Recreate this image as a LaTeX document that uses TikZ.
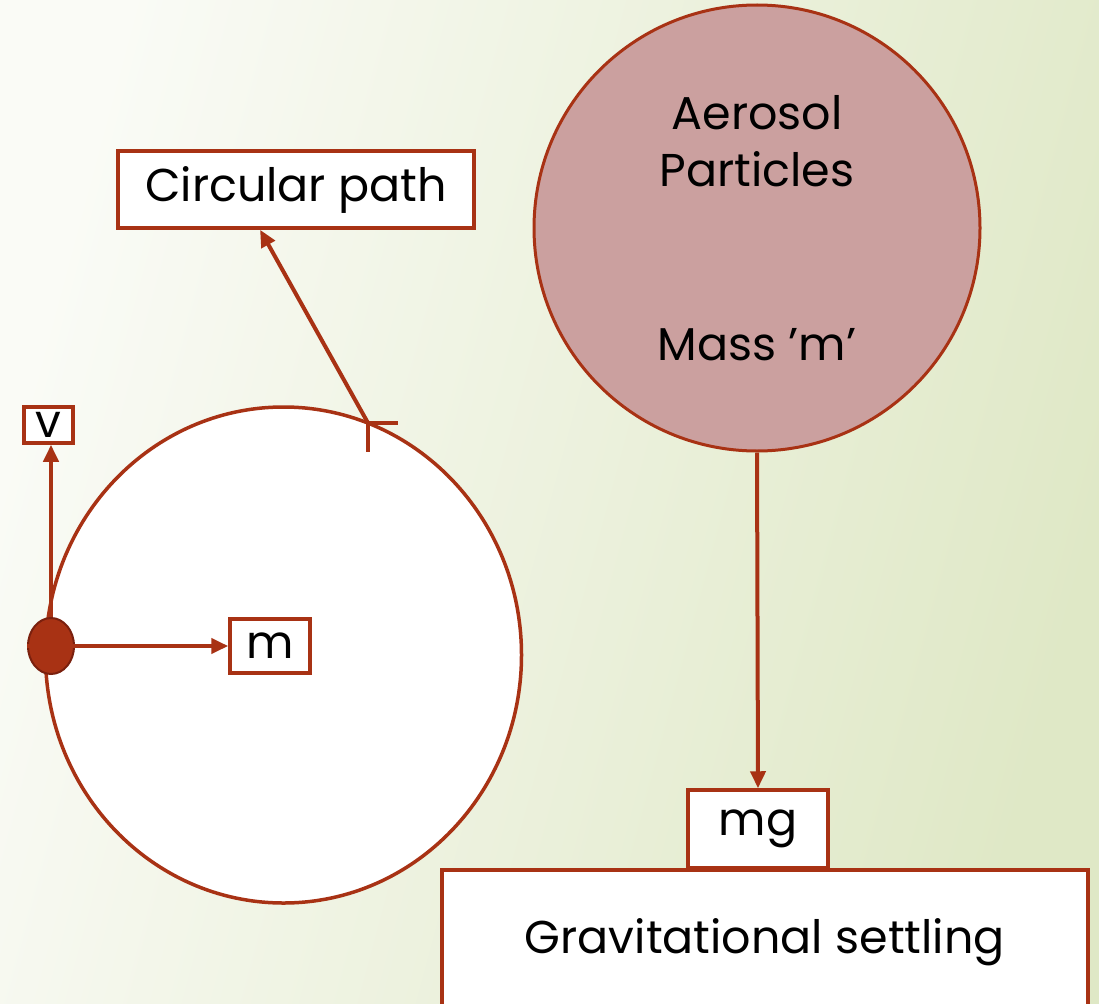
\documentclass[tikz,border=0pt]{standalone}
\usepackage{fontspec}
\setmainfont{Poppins}
\usetikzlibrary{arrows.meta,calc,positioning,shapes.geometric}
\definecolor{setred}{RGB}{168,50,20}
\definecolor{balldark}{RGB}{122,32,14}
\definecolor{aerofill}{RGB}{203,160,159}
\definecolor{bgleft}{RGB}{250,251,246}
\definecolor{bgright}{RGB}{223,232,198}

\begin{document}
\begin{tikzpicture}[x=1pt, y=-1pt,
    lbl/.style={draw=setred, fill=white, line width=3.5pt, inner sep=0pt, font=\fontsize{46}{52}\selectfont},
    link/.style={draw=setred, line width=4pt, -{Triangle[length=17pt, width=15pt]}}
  ]
  \useasboundingbox (0,0) rectangle (1099,1003);
  \shade[left color=bgleft, right color=bgright, shading angle=75] (0,0) rectangle (1099,1003);

  % circular motion
  \node[ellipse, draw=setred, fill=white, line width=3.5pt, minimum width=476pt, minimum height=496pt, inner sep=0pt] (orbit) at (283.5,655) {};
  \node[lbl, minimum width=356pt, minimum height=77pt] (circpath) at (296,189.5) {Circular path};
  \node[lbl, minimum width=49pt, minimum height=36pt] (vbox) at (48.5,425) {v};
  \node[lbl, minimum width=80pt, minimum height=54pt] (mbox) at (270,646) {m};
  \node[ellipse, draw=balldark, fill=setred, line width=2pt, minimum width=46pt, minimum height=56pt, inner sep=0pt] (ball) at (51,646) {};
  \coordinate (tick) at (368,423);

  \draw[link] (ball.west) -- (mbox.west);
  \draw[link] (ball.north) -- (ball.north |- vbox.south);
  \draw[link] (tick) -- ($(circpath.south west)!0.4!(circpath.south east)$);
  \draw[setred, line width=4.5pt] (tick) -- ++(30,0) (tick) -- ++(0,29);

  % settling
  \node[ellipse, draw=setred, fill=aerofill, line width=3pt, minimum width=446pt, minimum height=446pt, inner sep=0pt, align=center, font=\fontsize{46}{57}\selectfont] (aerosol) at (757,228) {Aerosol\\Particles\\[117pt]Mass 'm'};
  \node[lbl, minimum width=646pt, minimum height=144pt, anchor=north west] (settling) at (440,868) {Gravitational settling};
  \node[lbl, minimum width=140pt, minimum height=78pt] (mgbox) at (758,829) {mg};

  \draw[link] (aerosol.south) -- (mgbox.north);
\end{tikzpicture}
\end{document}
